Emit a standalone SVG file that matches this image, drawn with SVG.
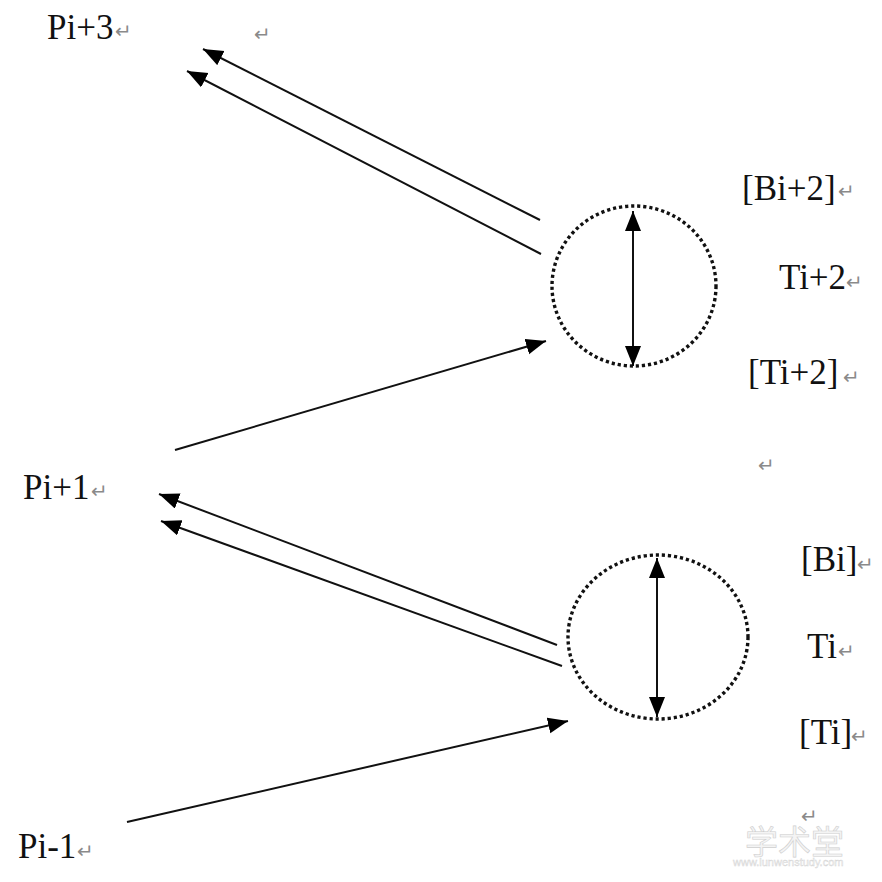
<svg xmlns="http://www.w3.org/2000/svg" width="882" height="882" viewBox="0 0 882 882">
<style>
.lbl{font-family:"Liberation Serif","Times New Roman",serif;font-size:35px;fill:#111}
.ret{font-family:"DejaVu Sans",sans-serif;font-size:20px;fill:#8a8a8a}
.conn{stroke:#111;stroke-width:2;fill:none}
.dot{fill:none;stroke:#111;stroke-width:3.4;stroke-dasharray:3.2 2.9}
.wm{font-family:"Noto Sans CJK SC",sans-serif;fill:#f4f4f4;stroke:#cfcfcf;stroke-width:0.6}
</style>
<defs>
<marker id="ah" markerUnits="userSpaceOnUse" markerWidth="22" markerHeight="18" refX="20" refY="8" orient="auto-start-reverse">
<path d="M0,0 L20,8 L0,16 z" fill="#000"/>
</marker>
</defs>
<rect width="882" height="882" fill="#fff"/>

<g id="node-pi3">
<text class="lbl" x="47" y="39">Pi+3</text><text class="ret" x="115" y="38">↵</text>
</g>
<text class="ret" x="254" y="41">↵</text>

<g id="node-circle-top">
<ellipse class="dot" cx="634" cy="286" rx="82" ry="80"/>
<line class="conn" x1="633" y1="262" x2="633" y2="211" marker-end="url(#ah)"/>
<line class="conn" x1="633" y1="262" x2="633" y2="366" marker-end="url(#ah)"/>
</g>
<g id="labels-top">
<text class="lbl" x="742" y="200">[Bi+2]</text><text class="ret" x="838" y="198">↵</text>
<text class="lbl" x="779" y="289">Ti+2</text><text class="ret" x="846" y="289">↵</text>
<text class="lbl" x="748" y="384">[Ti+2]</text><text class="ret" x="843" y="384">↵</text>
</g>

<g id="node-pi1">
<text class="lbl" x="23" y="499">Pi+1</text><text class="ret" x="91" y="498">↵</text>
</g>
<text class="ret" x="758" y="472">↵</text>

<g id="node-circle-bottom">
<ellipse class="dot" cx="658" cy="637" rx="90" ry="82"/>
<line class="conn" x1="657" y1="637" x2="657" y2="558" marker-end="url(#ah)"/>
<line class="conn" x1="657" y1="637" x2="657" y2="717" marker-end="url(#ah)"/>
</g>
<g id="labels-bottom">
<text class="lbl" x="801" y="571">[Bi]</text><text class="ret" x="857" y="571">↵</text>
<text class="lbl" x="807" y="658">Ti</text><text class="ret" x="838" y="658">↵</text>
<text class="lbl" x="799" y="744">[Ti]</text><text class="ret" x="851" y="743">↵</text>
</g>

<g id="node-pim1">
<text class="lbl" x="18" y="858">Pi-1</text><text class="ret" x="77" y="858">↵</text>
</g>
<text class="ret" x="801" y="823">↵</text>

<g id="connectors">
<line class="conn" x1="540" y1="220" x2="203" y2="49" marker-end="url(#ah)"/>
<line class="conn" x1="541" y1="254" x2="187" y2="71" marker-end="url(#ah)"/>
<line class="conn" x1="175" y1="450" x2="546" y2="341" marker-end="url(#ah)"/>
<line class="conn" x1="557" y1="645" x2="159" y2="494" marker-end="url(#ah)"/>
<line class="conn" x1="562" y1="666" x2="161" y2="521" marker-end="url(#ah)"/>
<line class="conn" x1="127" y1="822" x2="568" y2="721" marker-end="url(#ah)"/>
</g>

<g id="watermark">
<text class="wm" x="745" y="854" font-size="33">学术堂</text>
<text x="733" y="866" font-family="Liberation Sans, sans-serif" font-size="11" fill="#f4f4f4" stroke="#d4d4d4" stroke-width="0.4">www.lunwenstudy.com</text>
</g>
</svg>
